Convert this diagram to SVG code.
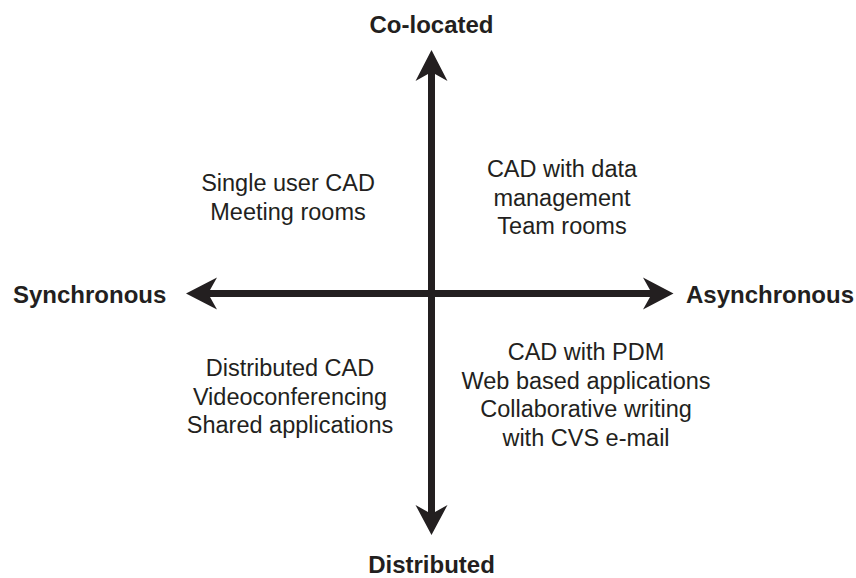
<svg xmlns="http://www.w3.org/2000/svg" width="856" height="578" viewBox="0 0 856 578">
<style>
.ax{font-family:"Liberation Sans",Arial,sans-serif;font-weight:bold;font-size:24px;fill:#231f20}
.q{font-family:"Liberation Sans",Arial,sans-serif;font-size:23.5px;fill:#231f20;text-anchor:middle}
.arr{fill:#231f20}
</style>
<rect width="856" height="578" fill="#ffffff"/>
<g id="connectors">
<polygon class="arr" points="431.5,50 447.5,81 435,74 435,512 447.5,505 431.5,535 415.5,505 428,512 428,74 415.5,81"/>
<polygon class="arr" points="186,293.5 217,277.5 210,290 650,290 643,277.5 673.5,293.5 643,309.5 650,297 210,297 217,309.5"/>
</g>
<g id="colocated"><text class="ax" x="431.5" y="33" text-anchor="middle">Co-located</text></g>
<g id="distributed"><text class="ax" x="431.5" y="573" text-anchor="middle">Distributed</text></g>
<g id="synchronous"><text class="ax" x="13" y="303">Synchronous</text></g>
<g id="asynchronous"><text class="ax" x="686" y="303">Asynchronous</text></g>
<g id="q-top-left"><text class="q" x="288" y="191">Single user CAD</text><text class="q" x="288" y="219.5">Meeting rooms</text></g>
<g id="q-top-right"><text class="q" x="562" y="177">CAD with data</text><text class="q" x="562" y="205.5">management</text><text class="q" x="562" y="234">Team rooms</text></g>
<g id="q-bottom-left"><text class="q" x="290" y="376">Distributed CAD</text><text class="q" x="290" y="404.5">Videoconferencing</text><text class="q" x="290" y="433">Shared applications</text></g>
<g id="q-bottom-right"><text class="q" x="586" y="360">CAD with PDM</text><text class="q" x="586" y="388.5">Web based applications</text><text class="q" x="586" y="417">Collaborative writing</text><text class="q" x="586" y="445.5">with CVS e-mail</text></g>
</svg>
